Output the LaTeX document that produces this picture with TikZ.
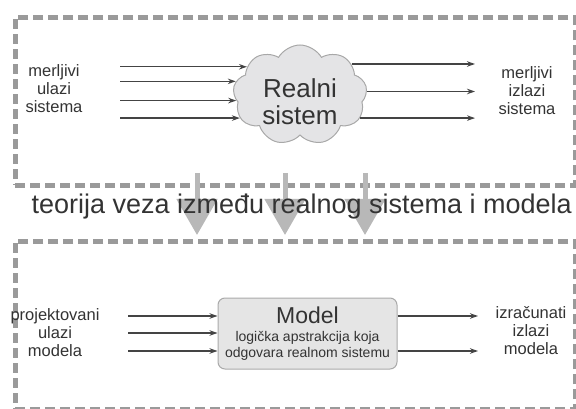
\documentclass[tikz,border=0pt]{standalone}
\usepackage{fontspec}
\setmainfont{Liberation Sans}
\usetikzlibrary{arrows.meta,shapes.symbols}
\definecolor{frame}{HTML}{9A9A9A}
\definecolor{ink}{HTML}{333333}
\definecolor{wire}{HTML}{444444}
\definecolor{cloudfill}{HTML}{E4E4E6}
\definecolor{cloudline}{HTML}{A8A8A8}
\definecolor{boxfill}{HTML}{E5E5E5}
\definecolor{boxline}{HTML}{AAAAAA}
\definecolor{flow}{HTML}{B8B8B8}

\begin{document}
\begin{tikzpicture}[x=1pt,y=-1pt,
  framebox/.style={draw=frame, line width=4.8pt, dash pattern=on 10pt off 5pt,
    minimum width=560pt, minimum height=168pt, inner sep=0pt, anchor=north west},
  sidetext/.style={text=ink, align=center, inner sep=0pt,
    font=\fontsize{16.5}{18}\selectfont},
  sig/.style={draw=wire, line width=1.3pt, -{Stealth[length=8pt,width=5.5pt]}},
  bigdown/.style={draw=flow, line width=5pt, -{Triangle[width=40pt,length=36pt]}},
]
\useasboundingbox (0,0) rectangle (576,409);

% dashed frames around the real system and the model
\node[framebox] (upper) at (13,15) {};
\node[framebox] (lower) at (13,239) {};

% flow of theory from the real system down to the model
\coordinate (d1a) at (197,173); \coordinate (d1b) at (197,235);
\coordinate (d2a) at (285,173); \coordinate (d2b) at (285,235);
\coordinate (d3a) at (365,173); \coordinate (d3b) at (365,235);
\draw[bigdown] (d1a) -- (d1b);
\draw[bigdown] (d2a) -- (d2b);
\draw[bigdown] (d3a) -- (d3b);

\node[anchor=base east, text=ink, inner sep=0pt, font=\fontsize{27}{28}\selectfont]
  (theory) at (572,214) {teorija veza između realnog sistema i modela};

% real system
\node[cloud, cloud puffs=9, cloud puff arc=120, cloud ignores aspect,
  draw=cloudline, fill=cloudfill, line width=1pt,
  minimum width=134pt, minimum height=100pt, inner sep=0pt] (real) at (300,95) {};
\node[text=ink, align=center, inner sep=0pt, font=\fontsize{26}{27}\selectfont]
  (realtext) at (300,102) {Realni\\sistem};

\node[sidetext] (inreal) at (54,89) {merljivi\\ulazi\\sistema};
\node[sidetext] (outreal) at (527,91) {merljivi\\izlazi\\sistema};

\coordinate (u) at (120,0);
\coordinate (v) at (475,0);
\draw[sig] (real.152 -| u) -- (real.152);
\draw[sig] (real.168 -| u) -- (real.168);
\draw[sig] (real.185 -| u) -- (real.185);
\draw[sig] (real.201 -| u) -- (real.201);
\draw[sig] (real.31) -- (real.31 -| v);
\draw[sig] (real.3) -- (real.3 -| v);
\draw[sig] (real.-21) -- (real.-21 -| v);

% model
\node[draw=boxline, fill=boxfill, line width=1pt, rounded corners=7pt,
  minimum width=179pt, minimum height=71pt, inner sep=0pt] (model) at (307.5,333.5) {};
\node[anchor=base, text=ink, inner sep=0pt, font=\fontsize{23}{23}\selectfont]
  (modeltitle) at (307.5,323) {Model};
\node[text=ink, align=center, inner sep=0pt, font=\fontsize{14}{16}\selectfont]
  (modeldesc) at (307.5,345.5) {logička apstrakcija koja\\odgovara realnom sistemu};

\node[sidetext] (inmodel) at (55,333) {projektovani\\ulazi\\modela};
\node[sidetext] (outmodel) at (531,331) {izračunati\\izlazi\\modela};

\coordinate (p1) at (128,316);
\coordinate (p2) at (128,333);
\coordinate (p3) at (128,351);
\coordinate (q1) at (478,316);
\coordinate (q2) at (478,351);
\draw[sig] (p1) -- (p1 -| model.west);
\draw[sig] (p2) -- (p2 -| model.west);
\draw[sig] (p3) -- (p3 -| model.west);
\draw[sig] (q1 -| model.east) -- (q1);
\draw[sig] (q2 -| model.east) -- (q2);
\end{tikzpicture}
\end{document}
